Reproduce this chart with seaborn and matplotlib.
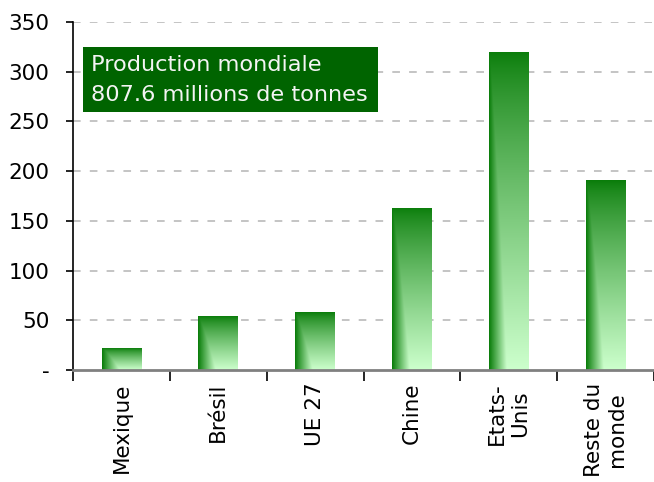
import numpy as np
import pandas as pd
import seaborn as sns
import matplotlib.pyplot as plt
from matplotlib.patches import Rectangle

# donnees (millions de tonnes)
pays = ["Mexique", "Brésil", "UE 27", "Chine", "Etats-\nUnis", "Reste du\nmonde"]
production = [22, 54, 58, 163, 320, 191]
yticks = [0, 50, 100, 150, 200, 250, 300, 350]
ytick_labels = ["-", "50", "100", "150", "200", "250", "300", "350"]
texte_encadre = "Production mondiale\n807.6 millions de tonnes"

sns.set_style("white")
plt.rcParams["font.family"] = ["DejaVu Sans"]

df = pd.DataFrame({"pays": pays, "production": production})

fig = plt.figure(figsize=(6.54, 4.82), dpi=100)
ax = fig.add_axes([73 / 654, 112 / 482, 581 / 654, 348 / 482])

sns.barplot(data=df, x="pays", y="production", width=0.41, color="white",
            linewidth=0, ax=ax, zorder=2)

# degrade vert (fonce en haut a gauche, clair en bas a droite)
nx, ny = 60, 120
gx = np.clip(np.linspace(0, 1, nx) / 0.45, 0, 1)
gy = np.linspace(0, 1, ny) ** 0.8
f = np.minimum(gx[None, :], gy[:, None])
fonce = np.array([0.04, 0.49, 0.04])
clair = np.array([0.80, 1.00, 0.80])
img = fonce + f[..., None] * (clair - fonce)

for p in ax.patches:
    x0, y0 = p.get_x(), p.get_y()
    w, h = p.get_width(), p.get_height()
    im = ax.imshow(img, extent=(x0, x0 + w, y0, y0 + h), origin="upper",
                   aspect="auto", zorder=3, interpolation="bilinear")
    im.set_clip_path(p)

ax.set_xlim(-0.5, len(pays) - 0.5)
ax.set_ylim(0, 350)

# grille
for v in yticks[1:]:
    ax.axhline(v, color="#b4b4b4", lw=1.1, dashes=(5, 6), zorder=1)

ax.set_yticks(yticks)
ax.set_yticklabels(ytick_labels, fontsize=15.5, color="black")
ax.set_xticks(np.arange(len(pays)))
ax.set_xticklabels(pays, rotation=90, fontsize=15.5, va="top", ha="center",
                   multialignment="center", color="black")
ax.tick_params(axis="x", length=0, pad=9)
ax.tick_params(axis="y", direction="out", length=5, width=1.2, color="black",
               pad=12, left=True)
# graduations x entre les categories
ax.set_xticks(np.arange(len(pays) + 1) - 0.5, minor=True)
ax.tick_params(axis="x", which="minor", direction="out", length=8, width=1.2,
               color="black", bottom=True)

ax.set_xlabel("")
ax.set_ylabel("")
sns.despine(ax=ax)
ax.spines["left"].set_color("black")
ax.spines["left"].set_linewidth(1.2)
ax.spines["bottom"].set_color("#808080")
ax.spines["bottom"].set_linewidth(2)
ax.spines["bottom"].set_zorder(4)

# encadre
ax.add_patch(Rectangle((10 / 581, 258 / 348), 295 / 581, 65 / 348,
                       transform=ax.transAxes, facecolor="#006400",
                       edgecolor="none", zorder=5))
ax.text(18 / 581, 290 / 348, texte_encadre, transform=ax.transAxes,
        color="#f4f4f4", fontsize=16.2, va="center", ha="left",
        linespacing=1.6, zorder=6)

fig.savefig("out.png", dpi=100)
